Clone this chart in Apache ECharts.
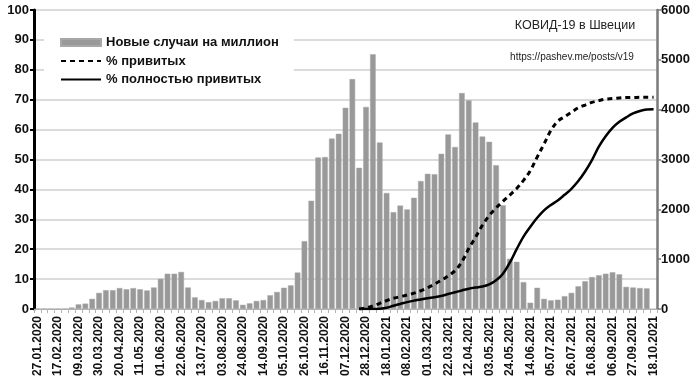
<!DOCTYPE html>
<html>
<head>
<meta charset="utf-8">
<script src="https://cdn.jsdelivr.net/npm/echarts@6/dist/echarts.min.js"></script>
<style>html,body{margin:0;padding:0;background:#fff}#c{width:700px;height:384px}</style>
</head>
<body>
<div id="c"></div>
<script>
var categories = [
'27.01.2020','03.02.2020','10.02.2020','17.02.2020','24.02.2020','02.03.2020','09.03.2020','16.03.2020','23.03.2020','30.03.2020',
'06.04.2020','13.04.2020','20.04.2020','27.04.2020','04.05.2020','11.05.2020','18.05.2020','25.05.2020','01.06.2020','08.06.2020',
'15.06.2020','22.06.2020','29.06.2020','06.07.2020','13.07.2020','20.07.2020','27.07.2020','03.08.2020','10.08.2020','17.08.2020',
'24.08.2020','31.08.2020','07.09.2020','14.09.2020','21.09.2020','28.09.2020','05.10.2020','12.10.2020','19.10.2020','26.10.2020',
'02.11.2020','09.11.2020','16.11.2020','23.11.2020','30.11.2020','07.12.2020','14.12.2020','21.12.2020','28.12.2020','04.01.2021',
'11.01.2021','18.01.2021','25.01.2021','01.02.2021','08.02.2021','15.02.2021','22.02.2021','01.03.2021','08.03.2021','15.03.2021',
'22.03.2021','29.03.2021','05.04.2021','12.04.2021','19.04.2021','26.04.2021','03.05.2021','10.05.2021','17.05.2021','24.05.2021',
'31.05.2021','07.06.2021','14.06.2021','21.06.2021','28.06.2021','05.07.2021','12.07.2021','19.07.2021','26.07.2021','02.08.2021',
'09.08.2021','16.08.2021','23.08.2021','30.08.2021','06.09.2021','13.09.2021','20.09.2021','27.09.2021','04.10.2021','11.10.2021',
'18.10.2021'];

// weekly new cases per million (right axis)
var newCases = [
0,0,0,0,0,30,93,108,204,324,
378,378,420,396,420,396,372,432,606,708,
708,744,432,234,180,138,162,216,216,174,
84,114,162,180,276,342,426,474,732,1362,
2172,3042,3048,3420,3516,4038,4614,2832,4056,5112,
3342,2328,1944,2076,1998,2232,2568,2712,2706,3114,
3504,3252,4332,4188,3744,3462,3354,2886,2082,1008,
948,540,126,426,204,174,186,258,324,456,
558,642,678,708,738,696,444,432,420,414,
null];

// % vaccinated (at least one dose), left axis
var pctVaccinated = [
null,null,null,null,null,null,null,null,null,null,
null,null,null,null,null,null,null,null,null,null,
null,null,null,null,null,null,null,null,null,null,
null,null,null,null,null,null,null,null,null,null,
null,null,null,null,null,null,null,0,0.4,1.0,
1.9,2.8,3.6,4.1,4.7,5.3,6.1,7.1,8.3,9.6,
11.1,12.8,15.8,20.2,24.0,28.0,31.3,33.8,36.0,38.1,
40.3,43.0,46.3,50.8,55.2,59.7,62.8,64.3,65.8,67.3,
68.2,69.1,69.7,70.2,70.4,70.6,70.7,70.7,70.8,70.8,
70.8];

// % fully vaccinated, left axis
var pctFully = [
null,null,null,null,null,null,null,null,null,null,
null,null,null,null,null,null,null,null,null,null,
null,null,null,null,null,null,null,null,null,null,
null,null,null,null,null,null,null,null,null,null,
null,null,null,null,null,null,null,0,0,0,
0.1,0.4,1.1,1.7,2.3,2.8,3.2,3.6,3.9,4.4,
5.0,5.6,6.2,6.8,7.2,7.5,8.2,9.6,11.8,15.5,
20.0,24.2,27.5,30.5,33.0,34.8,36.3,38.2,40.2,42.8,
46.0,49.8,54.3,57.8,60.6,62.6,64.1,65.4,66.2,66.7,
66.8];

var leftTicks = {min: 0, max: 100, step: 10};
var rightTicks = {min: 0, max: 6000, step: 1000};

var seriesNames = ['Новые случаи на миллион', '% привитых', '% полностью привитых'];
var titleText = 'КОВИД-19 в Швеции';
var subText = 'https://pashev.me/posts/v19';

var FF = 'Liberation Sans, Arial, sans-serif';
var chart = echarts.init(document.getElementById('c'), null, {renderer: 'canvas'});
chart.setOption({
  animation: false,
  backgroundColor: '#ffffff',
  textStyle: {fontFamily: FF},
  title: [
    {text: titleText, left: 575, top: 19, textAlign: 'center', padding: 0,
     textStyle: {fontFamily: FF, fontSize: 12.5, fontWeight: 'normal', color: '#222'}},
    {text: subText, left: 572, top: 52, textAlign: 'center', padding: 0,
     textStyle: {fontFamily: FF, fontSize: 10, fontWeight: 'normal', color: '#222'}}
  ],
  legend: {
    orient: 'vertical', left: 44, top: 29,
    padding: [6, 15, 6, 16],
    backgroundColor: '#ffffff',
    itemWidth: 40, itemHeight: 7, itemGap: 3.5,
    textStyle: {fontFamily: FF, fontSize: 13, fontWeight: 'bold', color: '#111', lineHeight: 15},
    data: [
      {name: seriesNames[0], icon: 'rect'},
      {name: seriesNames[1], itemStyle: {opacity: 0}},
      {name: seriesNames[2], itemStyle: {opacity: 0}}
    ]
  },
  grid: {left: 34, right: 43, top: 10, bottom: 75},
  xAxis: {
    type: 'category', data: categories, boundaryGap: true,
    axisLine: {lineStyle: {color: '#b3b3b3', width: 1}},
    axisTick: {show: true, interval: 0, length: 4, lineStyle: {color: '#b3b3b3'}},
    axisLabel: {interval: 2, rotate: 90, fontFamily: FF, fontSize: 12, fontWeight: 'bold', color: '#111', margin: 7}
  },
  yAxis: [
    {type: 'value', min: leftTicks.min, max: leftTicks.max, interval: leftTicks.step, position: 'left',
     axisLine: {show: true, lineStyle: {color: '#000', width: 3}},
     axisTick: {show: true, length: 4, lineStyle: {color: '#000', width: 2}},
     axisLabel: {fontFamily: FF, fontSize: 13, fontWeight: 'bold', color: '#111', margin: 5},
     splitLine: {show: true, lineStyle: {color: '#cfcfcf', width: 1.5}}},
    {type: 'value', min: rightTicks.min, max: rightTicks.max, interval: rightTicks.step, position: 'right',
     axisLine: {show: true, lineStyle: {color: '#7a7a7a', width: 2.5}},
     axisTick: {show: true, length: 4, lineStyle: {color: '#7a7a7a', width: 1.5}},
     axisLabel: {fontFamily: FF, fontSize: 13, fontWeight: 'bold', color: '#111', margin: 4,
                 formatter: function (v) { return String(v); }},
     splitLine: {show: false}}
  ],
  series: [
    {name: seriesNames[0], type: 'bar', yAxisIndex: 1, data: newCases,
     barCategoryGap: '18%',
     itemStyle: {color: '#999999', borderColor: '#a8a8a8', borderWidth: 0.5}},
    {name: seriesNames[1], type: 'line', yAxisIndex: 0, data: pctVaccinated,
     symbol: 'none', smooth: 0.35, z: 5,
     lineStyle: {color: '#000', width: 3, type: [5, 4]},
     itemStyle: {color: '#000'}},
    {name: seriesNames[2], type: 'line', yAxisIndex: 0, data: pctFully,
     symbol: 'none', smooth: 0.35, z: 5,
     lineStyle: {color: '#000', width: 2.5, type: 'solid'},
     itemStyle: {color: '#000'}}
  ]
});
</script>
</body>
</html>
